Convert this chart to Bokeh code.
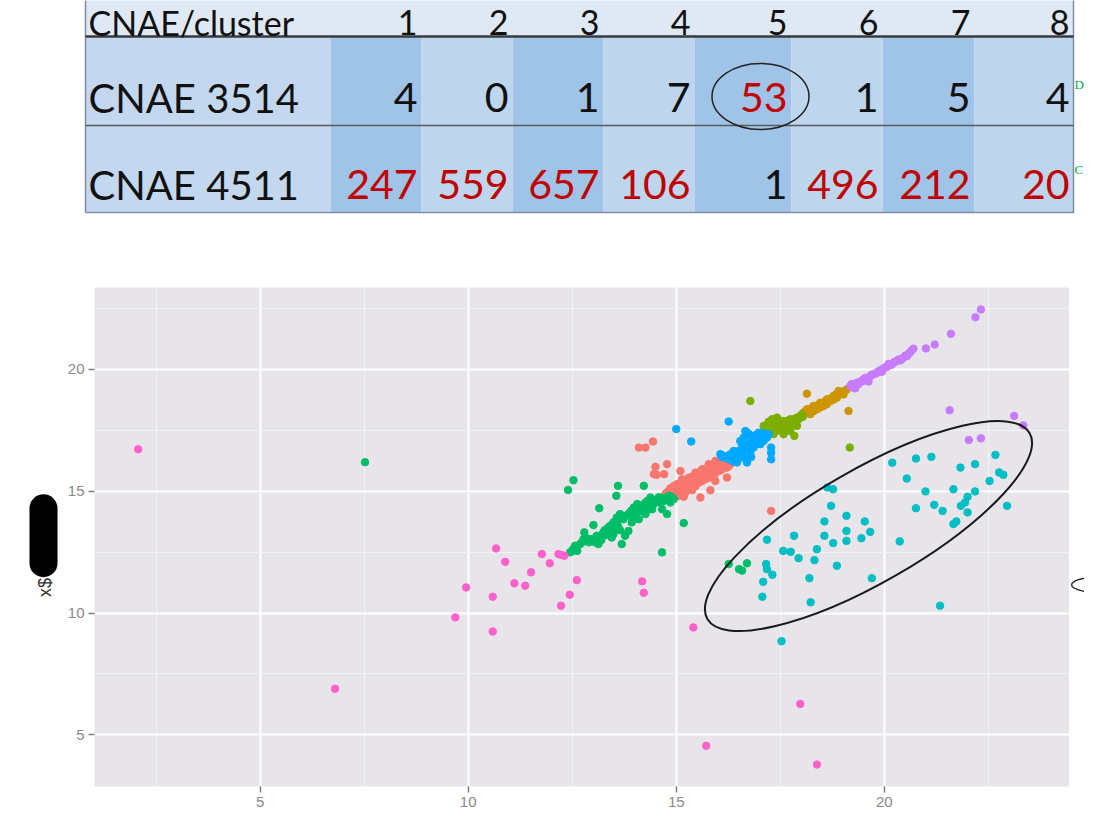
from math import pi

from bokeh.core.properties import value
from bokeh.embed import file_html
from bokeh.layouts import column, row
from bokeh.models import FixedTicker, Range1d
from bokeh.plotting import figure
from bokeh.resources import INLINE

# ---- table values ----
clusters = ["1", "2", "3", "4", "5", "6", "7", "8"]
row_labels = ["CNAE 3514", "CNAE  4511"]
counts_3514 = [4, 0, 1, 7, 53, 1, 5, 4]
counts_4511 = [247, 559, 657, 106, 1, 496, 212, 20]
side_notes = ["D", "C"]

# ---- scatter values, (x, y) per cluster ----
c1 = [(14.10, 16.79), (14.26, 16.79), (14.44, 17.04), (14.50, 16.00), (14.78, 16.11), (14.53, 15.67),
      (14.71, 15.70), (14.46, 15.70), (15.10, 15.83), (14.74, 14.88), (14.82, 15.01), (14.90, 15.15),
      (14.94, 14.95), (15.02, 15.29), (15.10, 15.15), (15.18, 15.35), (15.26, 15.49), (15.34, 15.42),
      (15.42, 15.63), (15.50, 15.56), (15.58, 15.77), (15.66, 15.70), (15.74, 15.83), (15.82, 15.97),
      (15.90, 15.90), (15.98, 16.11), (16.06, 16.04), (16.14, 16.18), (16.22, 15.97), (16.30, 16.11),
      (14.82, 14.81), (14.98, 15.08), (15.14, 15.49), (15.30, 15.29), (15.46, 15.77), (15.62, 15.90),
      (15.78, 16.11), (15.94, 16.24), (16.10, 15.90), (15.06, 14.81), (15.22, 14.95), (15.38, 15.22),
      (15.54, 15.35), (15.70, 15.49), (15.86, 15.70), (15.18, 14.77), (15.58, 14.74), (15.82, 15.04),
      (15.94, 15.42), (16.22, 15.56), (15.38, 15.04), (15.00, 15.05), (15.46, 15.50), (15.85, 15.85),
      (16.18, 16.05), (15.20, 15.20), (15.66, 15.60), (14.78, 14.95), (14.86, 15.12), (14.95, 15.22),
      (15.05, 15.18), (15.12, 15.40), (15.22, 15.45), (15.30, 15.55), (15.38, 15.60), (15.46, 15.62),
      (15.55, 15.70), (15.62, 15.80), (15.70, 15.92), (15.78, 15.95), (15.86, 16.05), (15.95, 16.02),
      (16.02, 16.18), (16.12, 16.10), (16.25, 16.20), (14.90, 14.85), (15.02, 14.92), (15.14, 15.05),
      (15.30, 15.12), (15.46, 15.20), (15.62, 15.42), (15.78, 15.55), (15.95, 15.75), (16.06, 15.85),
      (16.26, 16.02), (17.28, 14.19)]
c2 = [(18.14, 19.00), (19.14, 18.29), (18.14, 18.36), (18.30, 18.50), (18.46, 18.63), (18.62, 18.77),
      (18.78, 18.91), (18.94, 19.04), (19.10, 19.18), (18.22, 18.16), (18.38, 18.36), (18.54, 18.50),
      (18.70, 18.70), (18.86, 18.84), (19.02, 18.97), (18.06, 18.22), (18.62, 18.57), (18.90, 19.11),
      (18.10, 18.28), (18.18, 18.30), (18.26, 18.42), (18.34, 18.48), (18.42, 18.55), (18.50, 18.62),
      (18.58, 18.68), (18.66, 18.78), (18.74, 18.82), (18.82, 18.95), (18.98, 19.08), (19.06, 19.12),
      (18.30, 18.28), (18.46, 18.44), (18.78, 18.76)]
c3 = [(16.78, 18.70), (17.84, 17.27), (19.17, 16.79), (17.14, 17.68), (17.34, 17.81), (17.50, 17.61),
      (17.66, 17.88), (17.82, 17.95), (17.98, 18.09), (17.26, 17.47), (17.58, 17.34), (17.42, 18.02),
      (17.90, 17.68), (17.74, 17.47), (17.10, 17.68), (17.26, 17.75), (17.42, 17.81), (17.58, 17.88),
      (17.74, 17.95), (17.90, 18.02), (18.02, 18.16), (17.18, 17.47), (17.50, 17.61), (17.34, 17.34),
      (17.66, 17.68), (17.82, 17.75), (17.18, 17.60), (17.30, 17.58), (17.38, 17.70), (17.46, 17.92),
      (17.54, 17.75), (17.62, 17.78), (17.70, 17.80), (17.78, 17.85), (17.86, 17.90), (17.94, 17.95),
      (18.04, 18.05), (17.22, 17.85), (17.30, 17.95), (17.46, 17.50), (17.62, 17.55), (17.38, 17.55)]
c4 = [(7.52, 16.19), (12.53, 15.45), (12.40, 15.05), (13.60, 15.22), (13.56, 14.81), (14.22, 15.22),
      (13.15, 14.30), (12.79, 13.31), (13.01, 13.61), (15.18, 13.69), (14.66, 12.49), (16.26, 12.01),
      (16.51, 11.80), (16.58, 11.74), (16.70, 12.04), (12.45, 12.49), (12.52, 12.62), (12.57, 12.76),
      (12.85, 12.97), (12.93, 13.03), (13.05, 12.90), (13.13, 12.83), (13.17, 13.10), (13.25, 13.31),
      (13.33, 13.44), (13.41, 13.58), (13.49, 13.72), (13.57, 13.92), (13.65, 14.06), (13.73, 13.85),
      (13.81, 13.99), (13.89, 14.13), (13.98, 14.33), (14.06, 14.47), (14.14, 14.19), (14.22, 14.33),
      (14.30, 14.60), (14.38, 14.74), (14.46, 14.47), (14.54, 14.67), (14.62, 14.54), (14.70, 14.60),
      (14.78, 14.06), (14.82, 14.81), (13.69, 12.83), (13.77, 13.17), (13.85, 13.37), (13.49, 13.24),
      (13.41, 13.31), (13.98, 13.92), (14.10, 13.85), (14.26, 14.06), (14.42, 14.26), (12.77, 13.03),
      (13.09, 13.17), (13.53, 13.44), (13.93, 13.72), (14.66, 14.26), (14.86, 14.54), (14.94, 14.67),
      (12.69, 12.83), (12.50, 12.55), (12.60, 12.70), (12.72, 12.88), (12.82, 13.10), (12.90, 12.90),
      (13.00, 13.05), (13.10, 13.00), (13.20, 13.20), (13.28, 13.40), (13.36, 13.50), (13.44, 13.45),
      (13.52, 13.60), (13.60, 13.80), (13.68, 13.95), (13.76, 13.95), (13.84, 14.05), (13.92, 14.20),
      (14.00, 14.15), (14.08, 14.30), (14.16, 14.40), (14.24, 14.50), (14.34, 14.45), (14.42, 14.60),
      (14.50, 14.55), (14.58, 14.75), (14.66, 14.70), (14.74, 14.72), (14.90, 14.75), (13.20, 13.00),
      (13.60, 13.55), (14.00, 13.98), (14.34, 14.25), (13.30, 13.20), (13.45, 13.10), (13.65, 13.40),
      (12.62, 12.55)]
c5 = [(20.19, 16.17), (20.76, 16.34), (21.13, 16.41), (21.83, 15.97), (22.18, 16.11), (22.67, 16.49),
      (20.54, 15.52), (22.76, 15.77), (22.86, 15.67), (22.53, 15.42), (18.63, 15.15), (18.77, 15.08),
      (20.99, 14.99), (21.66, 15.08), (22.18, 14.99), (22.00, 14.77), (21.94, 14.54), (18.72, 14.40),
      (20.76, 14.30), (21.20, 14.44), (21.40, 14.19), (22.95, 14.40), (21.84, 14.40), (22.00, 14.13),
      (19.09, 13.99), (18.56, 13.76), (19.53, 13.76), (21.73, 13.76), (21.66, 13.65), (19.09, 13.37),
      (19.66, 13.33), (17.83, 13.17), (18.56, 13.17), (19.45, 13.07), (18.77, 12.87), (19.09, 12.96),
      (20.37, 12.94), (17.18, 13.01), (17.57, 12.55), (17.75, 12.51), (18.38, 12.62), (17.94, 12.25),
      (18.32, 12.17), (17.16, 12.01), (17.18, 11.80), (18.86, 11.94), (17.31, 11.57), (17.09, 11.28),
      (18.20, 11.43), (19.70, 11.43), (17.07, 10.67), (18.23, 10.44), (21.34, 10.30), (17.53, 8.84)]
c6 = [(15.00, 17.55), (15.36, 17.04), (16.26, 17.86), (17.28, 16.79), (17.28, 16.58), (17.28, 16.31),
      (16.70, 17.40), (16.54, 17.06), (16.38, 16.65), (16.14, 16.45), (16.78, 17.27), (16.94, 17.20),
      (17.10, 17.06), (16.86, 16.79), (16.62, 16.38), (16.46, 16.18), (16.26, 16.31), (17.02, 16.93),
      (17.18, 17.20), (16.70, 16.18), (16.66, 17.47), (16.06, 16.52), (16.30, 16.52), (16.50, 16.65),
      (16.70, 16.79), (16.86, 17.06), (16.98, 17.40), (17.22, 17.34), (16.54, 16.45), (16.78, 16.58),
      (16.10, 16.40), (16.20, 16.38), (16.34, 16.40), (16.42, 16.55), (16.58, 16.55), (16.62, 16.70),
      (16.74, 16.95), (16.82, 17.12), (16.90, 17.30), (16.74, 17.35), (16.62, 17.20), (16.58, 16.88),
      (16.92, 16.92), (17.05, 17.15), (17.14, 17.30), (16.48, 16.30), (16.38, 16.22), (16.80, 16.40),
      (16.96, 17.05), (17.08, 17.38)]
c7 = [(19.18, 19.32), (19.34, 19.45), (19.50, 19.59), (19.66, 19.73), (19.82, 19.86), (19.98, 20.04),
      (20.14, 20.18), (20.30, 20.34), (20.46, 20.48), (20.58, 20.64), (20.66, 20.78), (19.26, 19.25),
      (19.42, 19.50), (19.58, 19.55), (19.74, 19.80), (19.90, 19.96), (20.06, 20.10), (20.22, 20.27),
      (20.39, 20.37), (20.55, 20.55), (19.22, 19.40), (19.30, 19.35), (19.38, 19.40), (19.46, 19.50),
      (19.54, 19.65), (19.62, 19.62), (19.70, 19.78), (19.78, 19.82), (19.86, 19.92), (19.94, 19.98),
      (20.02, 20.08), (20.10, 20.22), (20.18, 20.20), (20.26, 20.32), (20.34, 20.40), (20.42, 20.43),
      (20.50, 20.56), (20.62, 20.70), (20.70, 20.85), (19.30, 19.22), (19.62, 19.50), (19.94, 19.90),
      (21.00, 20.86), (21.21, 21.02), (21.60, 21.46), (22.19, 22.14), (22.32, 22.46), (21.57, 18.32),
      (22.03, 17.10), (22.32, 17.17), (23.12, 18.09), (23.34, 17.70)]
c8 = [(2.07, 16.72), (6.80, 6.89), (15.72, 4.55), (18.38, 3.78), (17.98, 6.27), (15.41, 9.41),
      (10.67, 12.65), (10.89, 12.10), (9.95, 11.05), (9.69, 9.82), (10.59, 10.67), (10.59, 9.24),
      (11.11, 11.22), (11.37, 11.12), (11.51, 11.67), (11.77, 12.42), (11.96, 12.04), (12.17, 12.42),
      (12.31, 12.35), (12.24, 12.38), (12.61, 11.35), (12.44, 10.75), (12.23, 10.30), (14.18, 11.30),
      (14.22, 10.83)]

x_ticks = [5, 10, 15, 20]
x_minor = [2.5, 7.5, 12.5, 17.5, 22.5]
y_ticks = [5, 10, 15, 20]
y_minor = [7.5, 12.5, 17.5, 22.5]

palette = ["#F8766D", "#CD9600", "#7CAE00", "#00BE67", "#00BFC4", "#00A9FF", "#C77CFF", "#FF61CC"]

# ---- table (coordinates are screen pixels) ----
col_edges = [85, 330, 421, 512, 603, 694, 791, 882, 974, 1073]
row_edges = [-30, 36, 125, 212]

tab = figure(width=1084, height=225, x_range=Range1d(0, 1084), y_range=Range1d(225, 0),
             x_axis_type=None, y_axis_type=None, output_backend="svg",
             toolbar_location=None, min_border=0)
tab.outline_line_color = None
tab.grid.visible = False

lefts, rights, tops, bottoms, fills = [85], [1073], [-30], [36], ["#DFE9F5"]
for r in range(2):
    for c in range(9):
        lefts.append(col_edges[c])
        rights.append(col_edges[c + 1])
        tops.append(row_edges[r + 1])
        bottoms.append(row_edges[r + 2])
        if c == 0:
            fills.append("#C3D8EF")
        elif c % 2 == 1:
            fills.append("#A0C4E8")
        else:
            fills.append("#BDD6EE")
tab.quad(left=lefts, right=rights, top=tops, bottom=bottoms, fill_color=fills, line_color=None)
tab.quad(left=[85], right=[1073], top=[-30], bottom=[212], fill_color=None,
         line_color="#7F8EA3", line_width=1.5)
tab.segment(x0=[85, 85], y0=[36, 125], x1=[1073, 1073], y1=[36, 125],
            line_color=["#3A3A3A", "#5A5A5A"], line_width=[2.5, 1.5])

# baselines land about 0.39em under the given y with this font
txt = dict(text_font=value("Lato"), text_baseline="alphabetic")
num_x = [e - 4 for e in col_edges[2:]]
tab.text(x=[88], y=[21.5], text=["CNAE/cluster"], text_align="left", text_color="#111111",
         text_font_size="34px", **txt)
tab.text(x=num_x, y=[21.5] * 8, text=clusters, text_align="right", text_color="#111111",
         text_font_size="34px", **txt)
tab.text(x=[88, 88], y=[97, 184], text=row_labels, text_align="left", text_color="#111111",
         text_font_size="40px", **txt)
for counts, yb in ((counts_3514, 97), (counts_4511, 184)):
    tab.text(x=num_x, y=[yb] * 8, text=[str(v) for v in counts], text_align="right",
             text_color=["#C00000" if v >= 10 else "#111111" for v in counts],
             text_font_size="41px", **txt)

tab.ellipse(x=760, y=96, width=97, height=66, fill_color=None, line_color="#222222", line_width=1.5)
# green notes beside the table, shrunk so they stay inside the page
tab.text(x=[1074, 1074], y=[84, 169], text=side_notes, text_align="left", text_baseline="alphabetic",
         text_font=value("Liberation Serif"), text_font_size="13px", text_color="#00B050")

# ---- scatter plot ----
sc = figure(width=1009, height=584, x_range=Range1d(1.02, 24.45), y_range=Range1d(2.88, 23.36),
            output_backend="svg", toolbar_location=None,
            min_border_left=34, min_border_right=0, min_border_top=62, min_border_bottom=22,
            background_fill_color="#E7E5E9", border_fill_color="white")
sc.outline_line_color = None
sc.xaxis.ticker = FixedTicker(ticks=x_ticks, minor_ticks=x_minor)
sc.yaxis.ticker = FixedTicker(ticks=y_ticks, minor_ticks=y_minor)
sc.axis.axis_line_color = None
sc.axis.major_tick_line_color = "#7F7F7F"
sc.axis.major_tick_line_width = 1.5
sc.axis.major_tick_out = 6
sc.axis.major_tick_in = 0
sc.axis.minor_tick_line_color = None
sc.axis.major_label_standoff = 4
sc.axis.major_label_text_color = "#8A8A8A"
sc.axis.major_label_text_font = "Liberation Sans"
sc.axis.major_label_text_font_size = "15px"
sc.grid.grid_line_color = "white"
sc.grid.grid_line_width = 2
sc.grid.minor_grid_line_color = "#F3F2F4"
sc.grid.minor_grid_line_width = 1

for pts, col in zip((c1, c2, c3, c4, c5, c6, c7, c8), palette):
    xs, ys = zip(*pts)
    sc.scatter(list(xs), list(ys), size=7.5, fill_color=col, line_color=col)

# hand-drawn ellipse round cluster 5
sc.ellipse(x=19.62, y=13.57, width=372, height=113, width_units="screen", height_units="screen",
           angle=0.523, fill_color=None, line_color="#1A1A1A", line_width=2)

# ---- left strip with the (masked) y label ----
lab = figure(width=60, height=584, x_range=Range1d(0, 60), y_range=Range1d(825, 241),
             x_axis_type=None, y_axis_type=None, output_backend="svg",
             toolbar_location=None, min_border=0)
lab.outline_line_color = None
lab.grid.visible = False
lab.rect(x=43, y=531.5, width=28, height=97, border_radius=14, fill_color="black", line_color=None)
lab.text(x=[44], y=[592], text=["x$"], angle=pi / 2, text_align="center", text_baseline="middle",
         text_font=value("Liberation Sans"), text_font_size="18px", text_color="#333333")

# ---- right strip with the edge of another ellipse ----
rf = figure(width=15, height=584, x_range=Range1d(1069, 1084), y_range=Range1d(825, 241),
            x_axis_type=None, y_axis_type=None, output_backend="svg",
            toolbar_location=None, min_border=0)
rf.outline_line_color = None
rf.grid.visible = False
rf.quadratic(x0=[1071, 1071], y0=[589, 589], x1=[1100, 1100], y1=[578.6, 599.4],
             cx=[1071, 1071], cy=[582, 596], line_color="#222222", line_width=1.5)

layout = column(tab, row(lab, sc, rf))
open("out.html", "w").write(file_html(layout, INLINE))
